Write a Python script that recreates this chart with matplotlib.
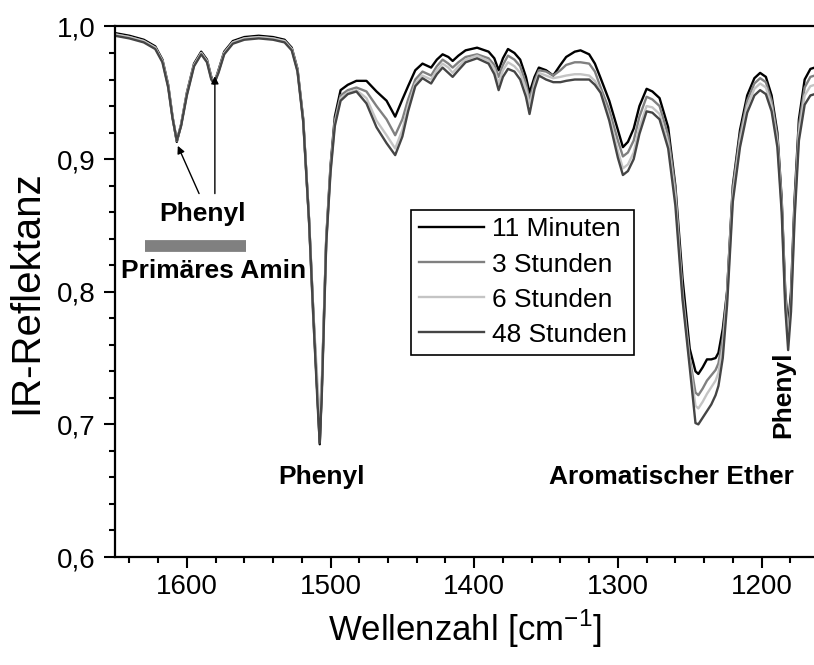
import matplotlib
matplotlib.use('Agg')
import matplotlib.pyplot as plt
from matplotlib.ticker import MultipleLocator, FuncFormatter

plt.rcParams['font.family'] = ['Liberation Sans', 'DejaVu Sans']

# wavenumber grid (cm^-1)
wn = [1650, 1640, 1630, 1622, 1617, 1613, 1610, 1607, 1604, 1600,
      1595, 1590, 1586, 1583, 1581, 1578, 1574, 1568, 1560, 1550,
      1540, 1532, 1527, 1523, 1519, 1515, 1512, 1509, 1507.5, 1506,
      1503, 1500, 1497, 1493, 1488, 1482, 1475, 1468, 1461, 1455,
      1450, 1446, 1441, 1436, 1430, 1426, 1422, 1418, 1415, 1411,
      1406, 1398, 1390, 1386, 1383, 1380, 1376.5, 1372, 1368, 1364,
      1361.5, 1358, 1355, 1350, 1345, 1340, 1336, 1330, 1326, 1320,
      1316, 1312, 1306, 1300, 1296.5, 1293, 1289, 1285, 1280, 1276,
      1271, 1265, 1260, 1255, 1250, 1246, 1244, 1241, 1238, 1235,
      1232, 1230, 1227, 1224, 1220, 1215, 1210, 1205, 1201, 1197,
      1193, 1189, 1186, 1183.5, 1181.5, 1179.5, 1177, 1174, 1170, 1166,
      1163]

r_11min = [0.995, 0.993, 0.990, 0.985, 0.975, 0.956, 0.932, 0.913, 0.926, 0.950,
           0.972, 0.981, 0.975, 0.962, 0.957, 0.967, 0.981, 0.989, 0.992, 0.993,
           0.992, 0.990, 0.984, 0.968, 0.930, 0.855, 0.785, 0.720, 0.685, 0.730,
           0.840, 0.895, 0.932, 0.952, 0.956, 0.959, 0.959, 0.951, 0.944, 0.932,
           0.945, 0.955, 0.967, 0.972, 0.969, 0.975, 0.979, 0.977, 0.974, 0.978,
           0.982, 0.984, 0.981, 0.976, 0.967, 0.976, 0.983, 0.980, 0.975, 0.962,
           0.950, 0.962, 0.969, 0.967, 0.963, 0.971, 0.977, 0.981, 0.982, 0.979,
           0.972, 0.961, 0.944, 0.922, 0.909, 0.913, 0.923, 0.940, 0.953, 0.951,
           0.946, 0.924, 0.880, 0.810, 0.757, 0.740, 0.738, 0.743, 0.749, 0.749,
           0.750, 0.754, 0.772, 0.800, 0.880, 0.922, 0.948, 0.961, 0.965, 0.962,
           0.948, 0.920, 0.870, 0.800, 0.773, 0.800, 0.870, 0.930, 0.960, 0.968,
           0.969]

r_3h = [0.994, 0.992, 0.989, 0.984, 0.974, 0.955, 0.932, 0.914, 0.926, 0.949,
        0.971, 0.980, 0.974, 0.961, 0.957, 0.966, 0.980, 0.988, 0.991, 0.992,
        0.991, 0.989, 0.983, 0.967, 0.929, 0.855, 0.780, 0.720, 0.688, 0.730,
        0.838, 0.893, 0.929, 0.948, 0.952, 0.954, 0.951, 0.940, 0.930, 0.918,
        0.930, 0.945, 0.960, 0.966, 0.963, 0.970, 0.975, 0.972, 0.969, 0.973,
        0.977, 0.979, 0.976, 0.971, 0.962, 0.971, 0.978, 0.975, 0.970, 0.957,
        0.945, 0.959, 0.967, 0.966, 0.963, 0.967, 0.971, 0.973, 0.973, 0.972,
        0.966, 0.954, 0.937, 0.914, 0.902, 0.905, 0.914, 0.932, 0.947, 0.945,
        0.940, 0.918, 0.878, 0.800, 0.750, 0.724, 0.722, 0.727, 0.733, 0.737,
        0.741, 0.746, 0.765, 0.800, 0.878, 0.918, 0.944, 0.957, 0.961, 0.958,
        0.944, 0.917, 0.868, 0.797, 0.768, 0.795, 0.865, 0.925, 0.954, 0.962,
        0.963]

r_6h = [0.994, 0.992, 0.989, 0.984, 0.974, 0.955, 0.932, 0.914, 0.926, 0.949,
        0.971, 0.980, 0.974, 0.961, 0.957, 0.966, 0.980, 0.988, 0.991, 0.992,
        0.991, 0.989, 0.983, 0.967, 0.929, 0.856, 0.785, 0.730, 0.703, 0.735,
        0.838, 0.892, 0.927, 0.946, 0.950, 0.952, 0.946, 0.929, 0.918, 0.908,
        0.922, 0.940, 0.957, 0.963, 0.960, 0.967, 0.972, 0.969, 0.965, 0.970,
        0.975, 0.978, 0.974, 0.968, 0.957, 0.967, 0.973, 0.970, 0.965, 0.953,
        0.941, 0.956, 0.965, 0.963, 0.961, 0.962, 0.963, 0.964, 0.964, 0.963,
        0.959, 0.951, 0.932, 0.906, 0.893, 0.896, 0.905, 0.924, 0.940, 0.939,
        0.934, 0.912, 0.872, 0.797, 0.747, 0.714, 0.712, 0.717, 0.723, 0.728,
        0.733, 0.739, 0.758, 0.795, 0.873, 0.914, 0.940, 0.953, 0.957, 0.954,
        0.940, 0.913, 0.864, 0.793, 0.763, 0.790, 0.860, 0.920, 0.948, 0.955,
        0.956]

r_48h = [0.993, 0.991, 0.988, 0.983, 0.973, 0.954, 0.931, 0.914, 0.925, 0.948,
         0.970, 0.979, 0.973, 0.960, 0.957, 0.965, 0.979, 0.987, 0.990, 0.991,
         0.990, 0.988, 0.982, 0.966, 0.928, 0.854, 0.782, 0.715, 0.686, 0.725,
         0.836, 0.890, 0.925, 0.944, 0.949, 0.951, 0.942, 0.924, 0.912, 0.903,
         0.917, 0.936, 0.955, 0.961, 0.957, 0.964, 0.969, 0.965, 0.962, 0.967,
         0.973, 0.976, 0.972, 0.964, 0.952, 0.962, 0.968, 0.966, 0.960, 0.947,
         0.934, 0.953, 0.963, 0.960, 0.958, 0.958, 0.959, 0.960, 0.960, 0.960,
         0.956, 0.950, 0.929, 0.901, 0.888, 0.891, 0.900, 0.919, 0.936, 0.935,
         0.930, 0.908, 0.865, 0.794, 0.743, 0.701, 0.700, 0.705, 0.710, 0.715,
         0.722, 0.729, 0.750, 0.790, 0.868, 0.909, 0.935, 0.948, 0.952, 0.949,
         0.936, 0.909, 0.860, 0.788, 0.756, 0.785, 0.855, 0.914, 0.941, 0.948,
         0.949]

labels = ['11 Minuten', '3 Stunden', '6 Stunden', '48 Stunden']
colors = ['#000000', '#808080', '#c4c4c4', '#454545']

fig = plt.figure(figsize=(8.14, 6.65), dpi=100)
ax = fig.add_axes([0.1413, 0.1624, 0.8587, 0.7978])

for ys, lab, col in zip([r_11min, r_3h, r_6h, r_48h], labels, colors):
    ax.plot(wn, ys, color=col, lw=1.7, label=lab)

ax.set_xlim(1650, 1163.5)
ax.set_ylim(0.6, 1.0)

# axes styling
ax.xaxis.set_major_locator(MultipleLocator(100))
ax.xaxis.set_minor_locator(MultipleLocator(20))
ax.yaxis.set_major_locator(MultipleLocator(0.1))
ax.yaxis.set_minor_locator(MultipleLocator(0.02))
ax.yaxis.set_major_formatter(FuncFormatter(lambda v, p: ('%.1f' % v).replace('.', ',')))
ax.tick_params(which='major', direction='out', length=8, width=1.5, labelsize=20)
ax.tick_params(which='minor', direction='out', length=4.5, width=1.5)
ax.tick_params(axis='x', pad=4)
ax.tick_params(axis='y', pad=6)
for s in ['left', 'bottom', 'top']:
    ax.spines[s].set_linewidth(1.6)
ax.spines['right'].set_visible(False)

ax.set_xlabel('Wellenzahl [cm$^{\\mathregular{-1}}$]', fontsize=25)
ax.set_ylabel('IR-Reflektanz', fontsize=29)
ax.xaxis.set_label_coords(0.5, -0.095)
ax.yaxis.set_label_coords(-0.10, 0.5)

# band annotations
ax.plot([1629, 1558.5], [0.8348, 0.8348], color='#808080', lw=8.5, solid_capstyle='butt')
ax.text(1589.2, 0.8584, 'Phenyl', fontsize=19, fontweight='bold', ha='center', va='center')
ax.text(1581.6, 0.8160, 'Primäres Amin', fontsize=19, fontweight='bold', ha='center', va='center')
arr = dict(arrowstyle='-|>', color='k', lw=1.0, mutation_scale=11, shrinkA=0, shrinkB=0)
ax.annotate('', xy=(1606.3, 0.910), xytext=(1591.5, 0.874), arrowprops=arr)
ax.annotate('', xy=(1580.5, 0.9625), xytext=(1580.5, 0.874), arrowprops=arr)
ax.text(1506.3, 0.6603, 'Phenyl', fontsize=19, fontweight='bold', ha='center', va='center')
ax.text(1262.6, 0.6603, 'Aromatischer Ether', fontsize=19, fontweight='bold', ha='center', va='center')
ax.text(1185.2, 0.722, 'Phenyl', fontsize=19, fontweight='bold', ha='center', va='center', rotation=90)

leg = ax.legend(loc='upper left', bbox_to_anchor=(0.4235, 0.655), fontsize=19,
                frameon=True, fancybox=False, edgecolor='k', framealpha=1,
                borderaxespad=0, handlelength=2.45, handletextpad=0.3,
                labelspacing=0.42, borderpad=0.3)
leg.get_frame().set_linewidth(1.2)

plt.savefig('out.png', dpi=100)
plt.close()
